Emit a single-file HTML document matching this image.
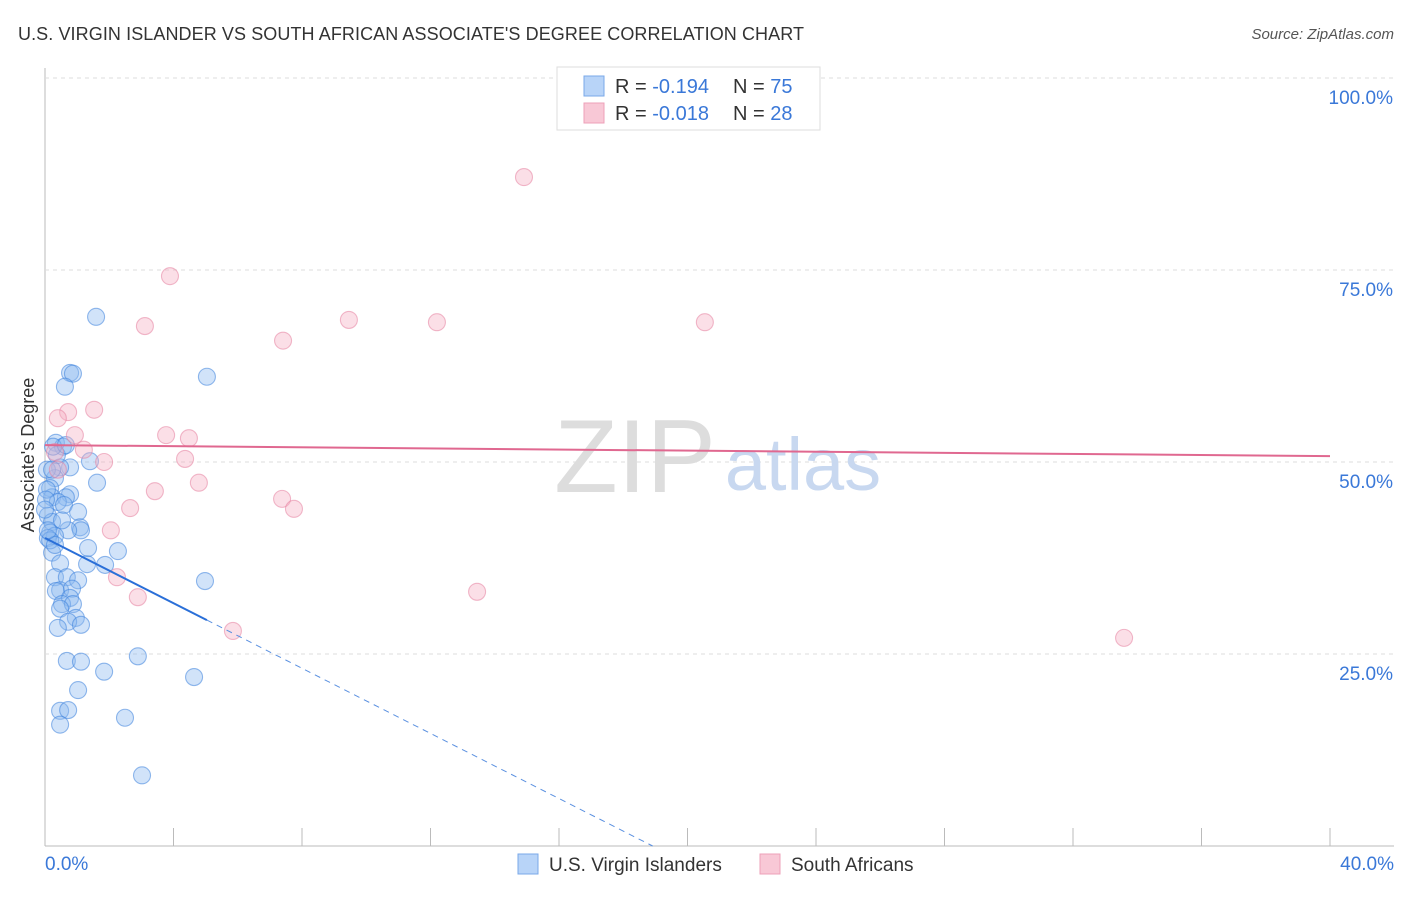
<!DOCTYPE html>
<html><head><meta charset="utf-8"><style>
body{margin:0;background:#fff;font-family:"Liberation Sans",sans-serif;}
svg text{font-family:"Liberation Sans",sans-serif;}
</style></head><body>
<svg id="chart" width="1406" height="892">
<text x="18" y="40" font-size="18" fill="#333" textLength="786">U.S. VIRGIN ISLANDER VS SOUTH AFRICAN ASSOCIATE'S DEGREE CORRELATION CHART</text>
<text x="1394" y="39" font-size="15" fill="#555" text-anchor="end" font-style="italic">Source: ZipAtlas.com</text>
<g id="grid"></g>
<text x="635" y="492" font-size="104" fill="#ddd" text-anchor="middle" font-family="Liberation Serif">ZIP</text>
<text x="803" y="490" font-size="74" fill="#c8d8f0" text-anchor="middle">atlas</text>
<g id="points"></g>
<g id="lines"></g>
<text transform="translate(34,455) rotate(-90)" font-size="18" fill="#333" text-anchor="middle">Associate's Degree</text>
<g>
<rect x="557" y="67" width="263" height="63" fill="#fff" stroke="#ddd"/>
<rect x="584" y="76" width="20" height="20" fill="#b8d4f8" stroke="#7aa8e8"/>
<rect x="584" y="103" width="20" height="20" fill="#f8c8d6" stroke="#eea0b8"/>
<text x="615" y="93" font-size="20" fill="#333">R = <tspan fill="#3a78d8">-0.194</tspan></text>
<text x="733" y="93" font-size="20" fill="#333">N = <tspan fill="#3a78d8">75</tspan></text>
<text x="615" y="120" font-size="20" fill="#333">R = <tspan fill="#3a78d8">-0.018</tspan></text>
<text x="733" y="120" font-size="20" fill="#333">N = <tspan fill="#3a78d8">28</tspan></text>
</g>
<g>
<rect x="518" y="854" width="20" height="20" fill="#b8d4f8" stroke="#7aa8e8"/>
<text x="549" y="871" font-size="19" fill="#333">U.S. Virgin Islanders</text>
<rect x="760" y="854" width="20" height="20" fill="#f8c8d6" stroke="#eea0b8"/>
<text x="791" y="871" font-size="19" fill="#333">South Africans</text>
</g>
</svg>
<script>
const xTicks=[0,4,8,12,16,20,24,28,32,36,40];
const yTicks=[25,50,75,100];
const xLabels=["0.0%","40.0%"];
const bluePx=[[96,317],[70,373],[73,374],[65,387],[207,377],[56,443],[63,447],[90,461],[70,467],[60,467],[55,478],[97,483],[50,488],[70,494],[52,497],[66,497],[58,502],[64,505],[78,512],[48,516],[52,522],[80,527],[81,530],[68,530],[50,533],[55,536],[48,538],[118,551],[52,553],[60,563],[105,565],[87,564],[55,577],[67,577],[78,580],[205,581],[60,590],[56,591],[72,589],[70,598],[62,604],[73,604],[60,609],[76,618],[68,622],[81,625],[58,628],[67,661],[81,662],[138,656],[104,672],[194,677],[78,690],[60,711],[68,710],[125,718],[60,725],[142,775],[47,490],[47,470],[46,500],[50,540],[55,545],[57,455],[62,520],[88,548],[45,510],[52,470],[48,530],[53,447],[66,445]];
const pinkPx=[[524,177],[170,276],[145,326],[349,320],[437,322],[705,322],[283,341],[94,410],[68,412],[58,418],[75,435],[166,435],[189,438],[84,450],[104,462],[185,459],[55,452],[58,470],[199,483],[155,491],[130,508],[282,499],[294,509],[111,530],[117,577],[138,597],[233,631],[477,592],[1124,638]];
const blueX=bluePx.map(p=>+((p[0]-45)/32.125).toFixed(2));
const blueY=bluePx.map(p=>+((846-p[1])/7.68).toFixed(1));
const pinkX=pinkPx.map(p=>+((p[0]-45)/32.125).toFixed(2));
const pinkY=pinkPx.map(p=>+((846-p[1])/7.68).toFixed(1));
const blueTrend=[40.1,-2.12];
const pinkTrend=[52.2,-0.036];
const NS="http://www.w3.org/2000/svg";
const X=v=>45+v*32.125, Y=v=>846-v*7.68;
function mk(tag,at,parent){const e=document.createElementNS(NS,tag);for(const k in at)e.setAttribute(k,at[k]);parent.appendChild(e);return e;}
const grid=document.getElementById('grid'),pts=document.getElementById('points'),lines=document.getElementById('lines');
const ax=mk('line',{x1:45,y1:68,x2:45,y2:846,stroke:'#bbb'},grid);


const bx=mk('line',{x1:45,y1:846,x2:1394,y2:846,stroke:'#bbb'},grid);


mk('line',{x1:45,y1:78,x2:1394,y2:78,stroke:'#ddd','stroke-dasharray':'4,4'},grid);
yTicks.forEach(t=>{
 const l=mk('line',{x1:45,y1:Y(t),x2:1394,y2:Y(t),stroke:'#ddd','stroke-dasharray':'4,4'},grid);
 
 
 const tx=mk('text',{x:1393,y:Y(t)+26,'font-size':19,fill:'#3a78d8','text-anchor':'end'},grid);tx.textContent=t.toFixed(1)+'%';
 
 
});
xTicks.forEach((t,i)=>{if(i==0)return;
 const l=mk('line',{x1:X(t),y1:828,x2:X(t),y2:846,stroke:'#bbb'},grid);
 
 
});
const t0=mk('text',{x:45,y:870,'font-size':19,fill:'#3a78d8'},grid);t0.textContent=xLabels[0];


const t1=mk('text',{x:1394,y:870,'font-size':19,fill:'#3a78d8','text-anchor':'end'},grid);t1.textContent=xLabels[1];


blueX.forEach((v,i)=>{const c=mk('circle',{cx:X(v),cy:Y(blueY[i]),r:8.5,fill:'rgba(140,185,240,0.4)',stroke:'rgba(60,130,220,0.55)','stroke-width':1.1},pts);
 
 });
pinkX.forEach((v,i)=>{const c=mk('circle',{cx:X(v),cy:Y(pinkY[i]),r:8.5,fill:'rgba(245,175,195,0.4)',stroke:'rgba(230,130,160,0.55)','stroke-width':1.1},pts);
 
 });
const bl=mk('line',{x1:X(0),y1:Y(blueTrend[0]),x2:X(5.04),y2:Y(blueTrend[0]+blueTrend[1]*5.04),stroke:'#2a6fd8','stroke-width':2},lines);


const xe=-blueTrend[0]/blueTrend[1];
const bd=mk('line',{x1:X(5.04),y1:Y(blueTrend[0]+blueTrend[1]*5.04),x2:X(xe),y2:Y(0),stroke:'#5a90e0','stroke-width':1,'stroke-dasharray':'6,5'},lines);


const pl=mk('line',{x1:X(0),y1:Y(pinkTrend[0]),x2:X(40),y2:Y(pinkTrend[0]+pinkTrend[1]*40),stroke:'#e06890','stroke-width':2},lines);


</script>
</body></html>
